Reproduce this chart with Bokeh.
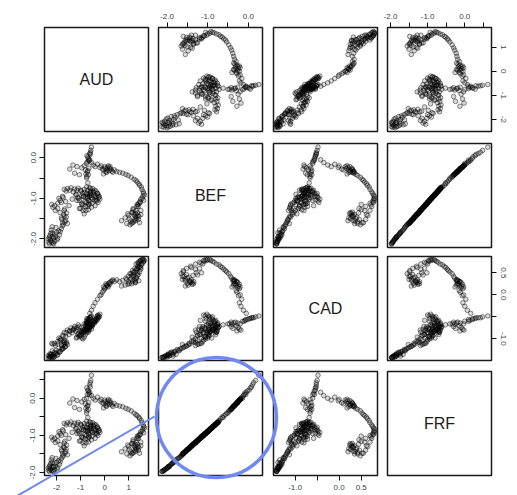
import math
from bokeh.plotting import figure
from bokeh.layouts import gridplot
from bokeh.models import FixedTicker, LinearAxis, Range1d, Label, PrintfTickFormatter, ColumnDataSource
from bokeh.embed import file_html
from bokeh.resources import INLINE

VARS = ["AUD", "BEF", "CAD", "FRF"]

AUD = [
    -2.30, -2.25, -2.34, -2.20, -2.12, -2.28, -2.18, -2.05, -1.98, -2.10, -1.92, -2.22, -2.02, -1.88, -2.15, -1.80,
    -1.72, -1.65, -1.78, -1.60, -1.70, -1.55, -1.85, -1.68,
    -2.15, -2.05, -1.95, -2.20, -1.85, -1.75, -1.90, -1.68, -1.55, -1.40, -1.25, -1.10, -1.62, -1.48, -1.35, -1.20,
    -1.05, -0.95, -0.90, -0.85, -1.00, -0.80, -0.75, -0.70, -0.65, -0.72, -0.60, -0.55, -0.68, -0.78, -0.62, -0.50,
    -0.45, -0.58, -0.70, -0.82, -0.88, -0.92, -0.65, -0.52, -0.40, -0.35, -0.30, -0.25, -0.42, -0.60, -0.75, -1.12,
    -0.98, -0.55, -0.68, -0.48, -0.62, -0.72,
    -0.70, -0.75, -0.68, -0.72, -0.80, -0.95, -1.15, -1.32, -1.45, -1.25, -1.05, -0.85, -0.72, -0.68, -0.74, -0.62,
    -0.58, -0.55, -0.60, -0.66,
    -0.62, -0.55, -0.48, -0.40, -0.30, -0.20, -0.10, 0.00, 0.10, 0.20, 0.30, 0.05, -0.05,
    0.40, 0.50, 0.62, 0.75, 0.88, 0.98,
    1.10, 1.22, 1.35, 1.45, 1.55, 1.62, 1.58, 1.50,
    1.48, 1.40, 1.30, 1.38, 1.25, 1.15, 1.05, 1.20, 1.32, 1.42, 1.28, 1.12, 1.00, 0.85, 0.70, 0.92, 1.18, 1.35,
    1.50, 1.62,
    -2.32, -2.26, -2.16, -2.08, -2.24, -1.95, -2.12, -2.30, -2.00, -1.85, -2.18, -1.76,
    -0.30, -0.95, -0.22, -1.15, -0.40, -0.85, -1.05, -0.55, -0.35, -0.78,
    -1.18, -0.28, -0.62, -0.90, -0.46, -0.20, -1.00, -0.70, -0.58, -0.42,
    -0.82, -0.36, -0.96, -0.66, -0.26, -0.50, -1.08, -0.74, -0.32, -0.88,
    -0.74, -0.70, -0.66, -0.76, -0.64, -0.70, -0.78, -0.60,
    0.02, 0.12, 0.18, 0.26, 0.08, -0.04, 0.22, 0.34, 0.15, -0.15,
    1.22, 1.30, 1.16, 1.40, 1.08, 1.26, 1.36, 1.18, 1.45, 1.02, 1.28, 1.12, 0.96, 1.34, 1.50, 1.42,
    1.30, 1.42, 1.52, 1.60, 1.65, 1.56, 1.46, 1.38,
    -2.08, -1.80, -1.60, -1.45, -1.30, -1.95, -1.72, -1.15,
    -1.75, -1.62, -1.68, -1.58, -1.80, -1.66,
]
BEF = [
    -2.12, -2.05, -2.00, -2.08, -1.98, -1.92, -1.85, -1.95, -2.02, -1.88, -1.80, -1.78, -1.72, -1.90, -2.10, -1.75,
    -1.65, -1.58, -1.52, -1.46, -1.40, -1.62, -1.35, -1.30,
    -1.22, -1.30, -1.12, -1.15, -1.05, -0.95, -1.00, -0.78, -0.76, -0.74, -0.77, -0.75, -1.08, -1.18, -1.02, -0.92,
    -1.05, -1.15, -1.30, -1.38, -1.25, -1.20, -1.10, -1.00, -0.95, -0.90, -0.88, -0.98, -1.05, -0.98, -1.08, -1.02,
    -0.92, -0.82, -0.80, -0.85, -0.95, -0.88, -1.15, -1.12, -1.05, -0.95, -0.88, -0.98, -0.80, -0.75, -0.72, -0.98,
    -0.82, -1.22, -1.28, -0.85, -0.92, -0.96,
    -0.62, -0.50, -0.42, -0.35, -0.30, -0.25, -0.22, -0.18, -0.28, -0.38, -0.42, -0.20, -0.10, -0.02, 0.05, 0.10,
    0.18, 0.26, 0.13, -0.08,
    -0.05, -0.12, -0.18, -0.22, -0.16, -0.24, -0.28, -0.22, -0.30, -0.26, -0.33, -0.35, -0.40,
    -0.30, -0.34, -0.36, -0.38, -0.41, -0.44,
    -0.48, -0.53, -0.60, -0.68, -0.78, -0.88, -0.95, -1.02,
    -1.10, -1.20, -1.30, -1.42, -1.52, -1.60, -1.65, -1.58, -1.50, -1.45, -1.38, -1.35, -1.42, -1.48, -1.55, -1.62,
    -1.25, -1.15, -1.30, -1.05,
    -2.08, -2.00, -1.94, -2.06, -1.86, -1.98, -2.12, -1.96, -1.84, -1.82, -1.70, -1.68,
    -0.88, -1.12, -0.96, -1.05, -1.18, -0.78, -1.25, -0.92, -1.04, -1.30,
    -0.90, -1.10, -0.74, -1.16, -0.84, -1.02, -0.80, -1.20, -0.86, -0.98,
    -1.08, -0.82, -0.94, -1.14, -0.92, -0.76, -1.00, -0.88, -1.06, -0.96,
    -0.46, -0.32, -0.26, -0.14, -0.06, 0.02, -0.40, 0.08,
    -0.26, -0.24, -0.32, -0.28, -0.36, -0.30, -0.22, -0.36, -0.20, -0.20,
    -1.40, -1.46, -1.34, -1.52, -1.56, -1.44, -1.36, -1.28, -1.60, -1.50, -1.55, -1.62, -1.38, -1.20, -1.40, -1.12,
    -0.56, -0.64, -0.72, -0.84, -0.92, -1.00, -1.08, -1.16,
    -1.18, -1.10, -0.82, -0.80, -0.84, -1.25, -0.98, -0.80,
    -1.60, -1.54, -1.44, -1.36, -1.48, -1.26,
]
CAD = [
    -1.42, -1.40, -1.38, -1.41, -1.36, -1.34, -1.39, -1.33, -1.37, -1.31, -1.28, -1.35, -1.26, -1.30, -1.42, -1.24,
    -1.22, -1.18, -1.16, -1.10, -1.06, -1.13, -1.03, -1.08,
    -1.12, -1.15, -1.06, -1.10, -1.00, -0.92, -0.98, -0.85, -0.80, -0.75, -0.72, -0.68, -0.95, -0.90, -0.86, -0.82,
    -0.95, -0.98, -1.00, -0.96, -0.92, -0.90, -0.86, -0.82, -0.78, -0.75, -0.72, -0.70, -0.76, -0.80, -0.74, -0.68,
    -0.62, -0.66, -0.70, -0.78, -0.84, -0.80, -0.80, -0.72, -0.60, -0.55, -0.50, -0.48, -0.58, -0.64, -0.72, -0.90,
    -0.82, -0.78, -0.85, -0.60, -0.70, -0.74,
    -0.68, -0.66, -0.62, -0.64, -0.70, -0.74, -0.78, -0.80, -0.82, -0.76, -0.72, -0.66, -0.60, -0.56, -0.54, -0.52,
    -0.50, -0.48, -0.52, -0.58,
    -0.42, -0.35, -0.26, -0.18, -0.10, -0.02, 0.06, 0.14, 0.22, 0.28, 0.32, 0.25, 0.18,
    0.30, 0.34, 0.30, 0.33, 0.38, 0.42,
    0.48, 0.52, 0.58, 0.64, 0.70, 0.76, 0.80, 0.78,
    0.78, 0.74, 0.70, 0.65, 0.60, 0.55, 0.48, 0.42, 0.38, 0.32, 0.28, 0.25, 0.30, 0.22, 0.20, 0.35,
    0.45, 0.50, 0.58, 0.80,
    -1.44, -1.41, -1.38, -1.40, -1.35, -1.36, -1.42, -1.39, -1.32, -1.29, -1.27, -1.23,
    -0.56, -0.86, -0.50, -0.96, -0.58, -0.84, -0.92, -0.66, -0.54, -0.80,
    -0.98, -0.46, -0.74, -0.82, -0.62, -0.44, -0.90, -0.72, -0.70, -0.64,
    -0.78, -0.60, -0.84, -0.76, -0.52, -0.68, -0.88, -0.80, -0.48, -0.86,
    -0.66, -0.62, -0.64, -0.60, -0.56, -0.54, -0.66, -0.52,
    0.16, 0.20, 0.26, 0.30, 0.22, 0.10, 0.24, 0.34, 0.18, 0.00,
    0.34, 0.40, 0.30, 0.46, 0.36, 0.28, 0.44, 0.50, 0.52, 0.26, 0.32, 0.42, 0.24, 0.60, 0.62, 0.70,
    0.55, 0.62, 0.68, 0.74, 0.78, 0.80, 0.76, 0.72,
    -1.10, -1.02, -0.86, -0.82, -0.78, -1.12, -0.94, -0.74,
    -1.20, -1.17, -1.12, -1.07, -1.14, -1.04,
]
FRF = [
    -1.97, -1.92, -1.88, -1.95, -1.85, -1.80, -1.73, -1.83, -1.90, -1.76, -1.68, -1.66, -1.62, -1.78, -1.96, -1.63,
    -1.55, -1.48, -1.42, -1.37, -1.31, -1.52, -1.25, -1.21,
    -1.12, -1.19, -1.02, -1.05, -0.95, -0.85, -0.90, -0.68, -0.66, -0.64, -0.67, -0.65, -0.98, -1.08, -0.92, -0.82,
    -0.95, -1.05, -1.20, -1.28, -1.15, -1.10, -1.00, -0.90, -0.86, -0.80, -0.78, -0.88, -0.95, -0.88, -0.98, -0.92,
    -0.82, -0.72, -0.70, -0.75, -0.85, -0.78, -1.05, -1.02, -0.95, -0.85, -0.78, -0.88, -0.70, -0.65, -0.62, -0.88,
    -0.72, -1.12, -1.18, -0.75, -0.82, -0.86,
    -0.52, -0.40, -0.30, -0.22, -0.15, -0.10, -0.06, -0.02, -0.13, -0.25, -0.30, -0.03, 0.10, 0.20, 0.28, 0.36,
    0.48, 0.62, 0.42, 0.14,
    0.16, 0.07, 0.00, -0.05, 0.03, -0.07, -0.12, -0.05, -0.15, -0.10, -0.18, -0.20, -0.26,
    -0.14, -0.19, -0.21, -0.23, -0.27, -0.30,
    -0.34, -0.40, -0.47, -0.55, -0.66, -0.76, -0.83, -0.90,
    -0.98, -1.08, -1.18, -1.30, -1.40, -1.48, -1.55, -1.46, -1.38, -1.33, -1.26, -1.22, -1.30, -1.36, -1.44, -1.50,
    -1.12, -1.02, -1.18, -0.93,
    -1.94, -1.88, -1.84, -1.92, -1.75, -1.86, -1.97, -1.84, -1.73, -1.71, -1.60, -1.58,
    -0.78, -1.02, -0.86, -0.95, -1.08, -0.68, -1.15, -0.82, -0.94, -1.20,
    -0.80, -1.00, -0.64, -1.06, -0.74, -0.92, -0.70, -1.10, -0.76, -0.88,
    -0.98, -0.72, -0.84, -1.04, -0.82, -0.66, -0.90, -0.78, -0.96, -0.86,
    -0.34, -0.19, -0.12, 0.00, 0.10, 0.22, -0.27, 0.30,
    -0.10, -0.08, -0.17, -0.13, -0.22, -0.15, -0.06, -0.22, -0.03, -0.03,
    -1.28, -1.34, -1.22, -1.40, -1.44, -1.32, -1.24, -1.16, -1.48, -1.38, -1.43, -1.50, -1.26, -1.08, -1.28, -1.00,
    -0.44, -0.51, -0.60, -0.72, -0.80, -0.88, -0.96, -1.04,
    -1.08, -1.00, -0.72, -0.70, -0.74, -1.15, -0.88, -0.70,
    -1.50, -1.44, -1.34, -1.26, -1.38, -1.16,
]

DATA = {"AUD": AUD, "BEF": BEF, "CAD": CAD, "FRF": FRF}
n = len(AUD)
for k, v in DATA.items():
    assert len(v) == n, (k, len(v), n)

LIMITS = {"AUD": (-2.50, 1.82), "BEF": (-2.21, 0.35), "CAD": (-1.49, 0.87), "FRF": (-2.08, 0.72)}
TICKS = {
    "AUD": [-2, -1, 0, 1],
    "BEF": [-2.0, -1.0, 0.0],
    "CAD": [-1.0, 0.0, 0.5],
    "FRF": [-2.0, -1.0, 0.0],
}
MINOR = {
    "AUD": [],
    "BEF": [-1.5, -0.5],
    "CAD": [-0.5],
    "FRF": [-1.5, -0.5, 0.5],
}
FMT = {"AUD": "%d", "BEF": "%.1f", "CAD": "%.1f", "FRF": "%.1f"}

COL_W = [153, 115, 114, 135]
COL_B = [(44, 5), (5, 6), (5, 5), (5, 26)]
ROW_H = [137, 114, 115, 129]
ROW_B = [(27, 6), (6, 4), (5, 6), (5, 20)]

FONT = "Liberation Sans"
TICK_TEXT = "#3c3d4c"
BLUE = "#7089f0"

CIRCLE_C = (216, 417)
CIRCLE_R = 60
LINE_PTS = ((0, 505), (154, 416))


def make_axis(var, vertical):
    ax = LinearAxis(
        ticker=FixedTicker(ticks=TICKS[var], minor_ticks=MINOR[var]),
        formatter=PrintfTickFormatter(format=FMT[var]),
        axis_line_color=None,
        major_tick_out=5, major_tick_in=0,
        minor_tick_out=5, minor_tick_in=0,
        major_tick_line_color="#111111", minor_tick_line_color="#111111",
        major_label_text_font=FONT,
        major_label_text_font_size="8px",
        major_label_text_color=TICK_TEXT,
        major_label_standoff=4,
    )
    if vertical:
        ax.major_label_orientation = "vertical"
    return ax


def frame_geom(i, j):
    fl = sum(COL_W[:j]) + COL_B[j][0]
    fw = COL_W[j] - COL_B[j][0] - COL_B[j][1]
    ft = sum(ROW_H[:i]) + ROW_B[i][0]
    fh = ROW_H[i] - ROW_B[i][0] - ROW_B[i][1]
    return fl, fw, ft, fh


def page_to_data(X, Y, i, j):
    fl, fw, ft, fh = frame_geom(i, j)
    x0, x1 = LIMITS[VARS[j]]
    y0, y1 = LIMITS[VARS[i]]
    x = x0 + (X - fl) / fw * (x1 - x0)
    y = y1 - (Y - ft) / fh * (y1 - y0)
    return x, y


rows = []
for i in range(4):
    row = []
    for j in range(4):
        xv, yv = VARS[j], VARS[i]
        if i == j:
            xr, yr = Range1d(0, 1), Range1d(0, 1)
        else:
            xr, yr = Range1d(*LIMITS[xv]), Range1d(*LIMITS[yv])
        p = figure(
            width=COL_W[j], height=ROW_H[i], x_range=xr, y_range=yr,
            x_axis_location=None, y_axis_location=None,
            toolbar_location=None, output_backend="svg",
            min_border_left=COL_B[j][0], min_border_right=COL_B[j][1],
            min_border_top=ROW_B[i][0], min_border_bottom=ROW_B[i][1],
        )
        p.grid.visible = False
        p.outline_line_color = "#1a1a1a"
        p.outline_line_width = 1.5
        p.background_fill_color = "white"
        p.border_fill_color = "white"
        if i == j:
            p.add_layout(Label(x=0.5, y=0.5, text=xv, text_align="center", text_baseline="middle",
                               text_font=FONT, text_font_size="16px", text_color="#1c1c1c"))
        else:
            src = ColumnDataSource(dict(x=DATA[xv], y=DATA[yv]))
            p.scatter("x", "y", source=src, size=4.6, marker="circle",
                      line_color="black", line_alpha=0.45, line_width=1,
                      fill_color="black", fill_alpha=0.15)
        if i == 0 and j in (1, 3):
            p.add_layout(make_axis(xv, False), "above")
        if i == 3 and j in (0, 2):
            p.add_layout(make_axis(xv, False), "below")
        if j == 3 and i in (0, 2):
            p.add_layout(make_axis(yv, True), "right")
        if j == 0 and i in (1, 3):
            p.add_layout(make_axis(yv, True), "left")

        # highlight annotation (drawn in every panel whose canvas it crosses)
        if i >= 2 and j <= 2 and i != j:
            cx, cy = page_to_data(CIRCLE_C[0], CIRCLE_C[1], i, j)
            p.circle(x=[cx], y=[cy], radius=CIRCLE_R, radius_units="screen",
                     fill_color=None, line_color=BLUE, line_width=3.5, level="overlay")
            (ax_, ay_), (bx_, by_) = LINE_PTS
            sx0, sy0 = page_to_data(ax_, ay_, i, j)
            sx1, sy1 = page_to_data(bx_, by_, i, j)
            p.segment(x0=[sx0], y0=[sy0], x1=[sx1], y1=[sy1], line_color=BLUE,
                      line_width=2, level="overlay")
        row.append(p)
    rows.append(row)

grid = gridplot(rows, toolbar_location=None)
open("out.html", "w").write(file_html(grid, INLINE))
